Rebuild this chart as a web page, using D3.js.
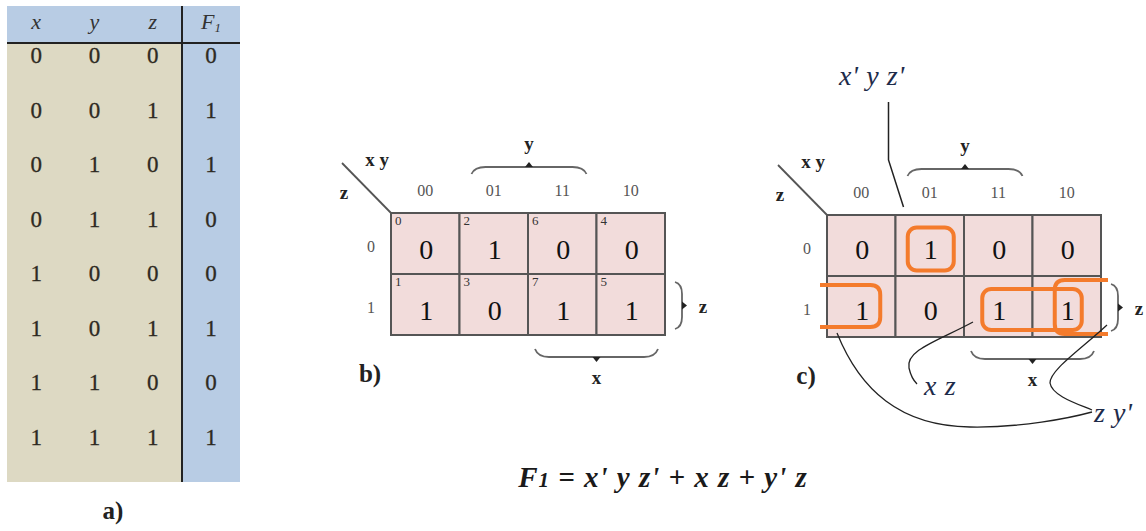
<!DOCTYPE html>
<html><head><meta charset="utf-8">
<script src="https://cdn.jsdelivr.net/npm/d3@7"></script>
<style>body{margin:0;background:#fff}svg{display:block}</style>
</head><body><svg id="c" width="1146" height="531"></svg>
<script>
// ---- data ----
const inputCols = ["x", "y", "z"];
const xVals = [0, 0, 0, 0, 1, 1, 1, 1];
const yVals = [0, 0, 1, 1, 0, 0, 1, 1];
const zVals = [0, 1, 0, 1, 0, 1, 0, 1];
const F1 = [0, 1, 1, 0, 0, 1, 0, 1];
const kmapCols = ["00", "01", "11", "10"];
const kmapRows = ["0", "1"];
const termLabels = ["x' y z'", "x z", "z y'"];
const panelLabels = ["a)", "b)", "c)"];

const svg = d3.select("#c");
const SERIF = "'Liberation Serif', 'DejaVu Serif', serif";

// ---- a) truth table ----
const T = {x0: 7, xDiv: 182, x1: 240, top: 6, head: 43, bottom: 482};
const gT = svg.append("g");
gT.append("rect").attr("x", T.x0).attr("y", T.top).attr("width", T.xDiv - T.x0).attr("height", T.bottom - T.top).attr("fill", "#ddd9c3");
gT.append("rect").attr("x", T.xDiv).attr("y", T.top).attr("width", T.x1 - T.xDiv).attr("height", T.bottom - T.top).attr("fill", "#b8cce4");
gT.append("rect").attr("x", T.x0).attr("y", T.top).attr("width", T.x1 - T.x0).attr("height", T.head - T.top).attr("fill", "#b8cce4");
gT.append("line").attr("x1", T.x0).attr("x2", T.x1).attr("y1", T.head).attr("y2", T.head).attr("stroke", "#222").attr("stroke-width", 2);
gT.append("line").attr("x1", T.xDiv).attr("x2", T.xDiv).attr("y1", T.top).attr("y2", T.bottom).attr("stroke", "#222").attr("stroke-width", 2);

const colX = d3.scaleBand().domain(inputCols).range([T.x0, T.xDiv]);
const fX = (T.xDiv + T.x1) / 2;
const rowY = d3.scalePoint().domain(d3.range(8)).range([55, 436.5]);

gT.selectAll("text.h").data(inputCols).join("text")
  .attr("x", d => colX(d) + colX.bandwidth() / 2).attr("y", 21).attr("dy", "0.35em")
  .attr("text-anchor", "middle").attr("font-family", SERIF).attr("font-style", "italic")
  .attr("font-size", 22).attr("fill", "#333").text(d => d);
const fh = gT.append("text").attr("x", fX).attr("y", 21).attr("dy", "0.35em").attr("text-anchor", "middle")
  .attr("font-family", SERIF).attr("font-style", "italic").attr("font-size", 22).attr("fill", "#333");
fh.append("tspan").text("F");
fh.append("tspan").attr("font-size", 13).attr("dy", "0.25em").text("1");

const cols = [xVals, yVals, zVals];
cols.forEach((vals, ci) => {
  gT.selectAll("text.c" + ci).data(vals).join("text")
    .attr("x", colX(inputCols[ci]) + colX.bandwidth() / 2).attr("y", (d, i) => rowY(i)).attr("dy", "0.35em")
    .attr("text-anchor", "middle").attr("font-family", SERIF).attr("font-size", 23).attr("fill", "#2e2a22")
    .attr("stroke", "#2e2a22").attr("stroke-width", 0.3)
    .text(d => d);
});
gT.selectAll("text.f").data(F1).join("text")
  .attr("x", fX).attr("y", (d, i) => rowY(i)).attr("dy", "0.35em")
  .attr("text-anchor", "middle").attr("font-family", SERIF).attr("font-size", 23).attr("fill", "#2e2a22")
  .attr("stroke", "#2e2a22").attr("stroke-width", 0.3)
  .text(d => d);
svg.append("text").attr("x", 113).attr("y", 510).attr("dy", "0.35em").attr("text-anchor", "middle")
  .attr("font-family", SERIF).attr("font-weight", "bold").attr("font-size", 25).attr("fill", "#222").text(panelLabels[0]);

// ---- brace helpers ----
const BR = "#666";
function topBrace(g, xa, xb, y) {
  const m = (xa + xb) / 2;
  g.append("path").attr("d", `M${xa},${y + 7} Q${xa + 3},${y} ${xa + 14},${y} L${xb - 14},${y} Q${xb - 3},${y} ${xb},${y + 7}`)
    .attr("fill", "none").attr("stroke", BR).attr("stroke-width", 1.8);
  g.append("path").attr("d", `M${m - 4},${y} L${m},${y - 5} L${m + 4},${y} Z`).attr("fill", "#222");
}
function bottomBrace(g, xa, xb, y) {
  const m = (xa + xb) / 2;
  g.append("path").attr("d", `M${xa},${y - 8} Q${xa + 3},${y} ${xa + 14},${y} L${xb - 14},${y} Q${xb - 3},${y} ${xb},${y - 8}`)
    .attr("fill", "none").attr("stroke", BR).attr("stroke-width", 1.8);
  g.append("path").attr("d", `M${m - 4},${y} L${m},${y + 5} L${m + 4},${y} Z`).attr("fill", "#222");
}
function rightBrace(g, x, ya, yb) {
  const m = (ya + yb) / 2;
  g.append("path").attr("d", `M${x - 7},${ya} Q${x},${ya + 2} ${x},${ya + 12} L${x},${yb - 12} Q${x},${yb - 2} ${x - 7},${yb}`)
    .attr("fill", "none").attr("stroke", BR).attr("stroke-width", 1.8);
  g.append("path").attr("d", `M${x},${m - 4} L${x + 5},${m} L${x},${m + 4} Z`).attr("fill", "#222");
}
function boldLabel(g, x, y, t, size) {
  g.append("text").attr("x", x).attr("y", y).attr("dy", "0.35em").attr("text-anchor", "middle")
    .attr("font-family", SERIF).attr("font-weight", "bold").attr("font-size", size || 19).attr("fill", "#222").text(t);
}

// ---- K-map drawing ----
function kmap(x0, y0, showIdx, label) {
  const g = svg.append("g");
  const W = 274, H = 122;
  const cx = d3.scaleBand().domain(kmapCols).range([x0, x0 + W]);
  const ry = d3.scaleBand().domain(kmapRows).range([y0, y0 + H]);
  const cells = [];
  kmapRows.forEach(r => kmapCols.forEach(c => {
    const m = 4 * (+c[0]) + 2 * (+c[1]) + (+r);
    cells.push({r, c, m, v: F1[m]});
  }));
  g.selectAll("rect.cell").data(cells).join("rect")
    .attr("x", d => cx(d.c)).attr("y", d => ry(d.r)).attr("width", cx.bandwidth()).attr("height", ry.bandwidth())
    .attr("fill", "#f2dcdb").attr("stroke", "#555").attr("stroke-width", 2);
  if (showIdx) {
    g.selectAll("text.idx").data(cells).join("text")
      .attr("x", d => cx(d.c) + 4).attr("y", d => ry(d.r) + 12)
      .attr("font-family", SERIF).attr("font-size", 13).attr("fill", "#333").text(d => d.m);
  }
  g.selectAll("text.val").data(cells).join("text")
    .attr("x", d => cx(d.c) + cx.bandwidth() / 2 + 1).attr("y", d => ry(d.r) + ry.bandwidth() / 2 + (showIdx ? 6 : 4)).attr("dy", "0.35em")
    .attr("text-anchor", "middle").attr("font-family", SERIF).attr("font-size", 28).attr("fill", "#111").text(d => d.v);
  g.selectAll("text.cl").data(kmapCols).join("text")
    .attr("x", d => cx(d) + cx.bandwidth() / 2).attr("y", y0 - 23).attr("dy", "0.35em")
    .attr("text-anchor", "middle").attr("font-family", SERIF).attr("font-size", 16).attr("fill", "#555").text(d => d);
  g.selectAll("text.rl").data(kmapRows).join("text")
    .attr("x", x0 - 20).attr("y", d => ry(d) + ry.bandwidth() / 2 + 3).attr("dy", "0.35em")
    .attr("text-anchor", "middle").attr("font-family", SERIF).attr("font-size", 16).attr("fill", "#555").text(d => d);
  g.append("line").attr("x1", x0 - 49).attr("y1", y0 - 50).attr("x2", x0).attr("y2", y0).attr("stroke", "#555").attr("stroke-width", 1.8);
  boldLabel(g, x0 - 14, y0 - 54, "x y");
  boldLabel(g, x0 - 47, y0 - 21, "z");
  // braces
  const ty = y0 - 46;
  topBrace(g, cx("01") + 12, cx("11") + cx.bandwidth() - 10, ty);
  boldLabel(g, (cx("01") + 12 + cx("11") + cx.bandwidth() - 10) / 2, y0 - 70, "y");
  const by = y0 + H + 22;
  bottomBrace(g, cx("11") + 7, cx("10") + cx.bandwidth() - 7, by);
  boldLabel(g, (cx("11") + cx("10") + cx.bandwidth()) / 2, y0 + H + 42, "x");
  rightBrace(g, x0 + W + 17, ry("1") + 8, ry("1") + ry.bandwidth() - 6);
  boldLabel(g, x0 + W + 38, ry("1") + ry.bandwidth() / 2 + 2, "z");
  boldLabel(g, x0 - 21, y0 + H + 38, label, 25);
  return {g, cx, ry, W, H};
}

const kb = kmap(391, 213, true, panelLabels[1]);
const kc = kmap(827, 215, false, panelLabels[2]);

// ---- c) groupings ----
const OR = "#f47b2c";
const gc = kc.g;
const bw = kc.cx.bandwidth(), bh = kc.ry.bandwidth();
const cxv = c => kc.cx(c) + bw / 2;
const ryv = r => kc.ry(r) + bh / 2;
// x' y z'
gc.append("rect").attr("x", cxv("01") - 22).attr("y", ryv("0") - 18).attr("width", 46).attr("height", 43).attr("rx", 9)
  .attr("fill", "none").attr("stroke", OR).attr("stroke-width", 4);
// y' z wrap-around, left part
{
  const xl = kc.cx("00") - 7, xr = cxv("00") + 19, yt = kc.ry("1") + 9, yb = kc.ry("1") + bh - 10;
  gc.append("path").attr("d", `M${xl},${yt} L${xr - 10},${yt} Q${xr},${yt} ${xr},${yt + 10} L${xr},${yb - 10} Q${xr},${yb} ${xr - 10},${yb} L${xl},${yb}`)
    .attr("fill", "none").attr("stroke", OR).attr("stroke-width", 4);
}
// x z
gc.append("rect").attr("x", cxv("11") - 16).attr("y", kc.ry("1") + 13).attr("width", cxv("10") + 15 - (cxv("11") - 16)).attr("height", 41).attr("rx", 9)
  .attr("fill", "none").attr("stroke", OR).attr("stroke-width", 4);
// y' z wrap-around, right part
{
  const xr = kc.cx("10") + bw + 7, xl = cxv("10") - 12, yt = kc.ry("1") + 4, yb = kc.ry("1") + bh - 3;
  gc.append("path").attr("d", `M${xr},${yt} L${xl + 10},${yt} Q${xl},${yt} ${xl},${yt + 10} L${xl},${yb - 10} Q${xl},${yb} ${xl + 10},${yb} L${xr},${yb}`)
    .attr("fill", "none").attr("stroke", OR).attr("stroke-width", 4);
}

// ---- c) annotation leaders ----
const LC = "#222";
const tx = kc.cx("01");
gc.append("path").attr("d", `M${tx - 7},102 L${tx - 7},160 L${tx + 8},207`).attr("fill", "none").attr("stroke", LC).attr("stroke-width", 1.5);
gc.append("path").attr("d", "M973,322 C940,340 905,350 909,368 C911,377 914,381 917,384").attr("fill", "none").attr("stroke", LC).attr("stroke-width", 1.3);
gc.append("path").attr("d", "M1107,325 C1080,350 1050,370 1050,383 C1052,396 1078,404 1092,410").attr("fill", "none").attr("stroke", LC).attr("stroke-width", 1.3);
gc.append("path").attr("d", "M837,333 C860,390 900,426 970,427 C1020,428 1070,418 1092,412").attr("fill", "none").attr("stroke", LC).attr("stroke-width", 1.3);

const TC = "#1e2b4a";
const termPos = [[839, 75], [924, 385], [1094, 412]];
termLabels.forEach((t, i) => {
  svg.append("text").attr("x", termPos[i][0]).attr("y", termPos[i][1]).attr("dy", "0.35em")
    .attr("font-family", SERIF).attr("font-style", "italic").attr("font-size", 28).attr("fill", TC)
    .attr("letter-spacing", 0.6).style("white-space", "pre").text(t);
});

// ---- formula ----
const ft = svg.append("text").attr("x", 663).attr("y", 477).attr("dy", "0.35em").attr("text-anchor", "middle")
  .attr("font-family", SERIF).attr("font-style", "italic").attr("font-weight", "bold").attr("font-size", 29).attr("fill", "#1a1a1a")
  .attr("letter-spacing", 1).style("white-space", "pre");
ft.append("tspan").text("F");
ft.append("tspan").attr("font-size", 21).text("1");
ft.append("tspan").text(" = x' y z' + x z + y' z");
</script></body></html>
